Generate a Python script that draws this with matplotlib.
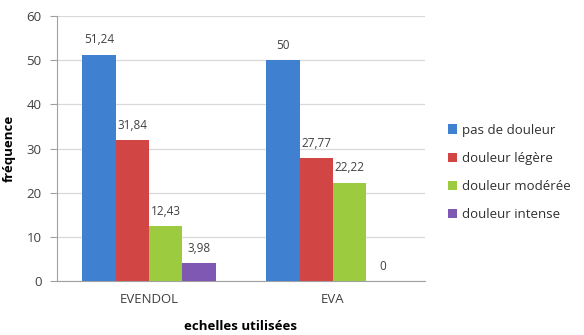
import matplotlib
matplotlib.use('Agg')

import matplotlib.pyplot as plt
import numpy as np

# Data: pain levels per scale
scales = ['EVENDOL', 'EVA']
series_names = ['pas de douleur', 'douleur légère', 'douleur modérée', 'douleur intense']
pas_de_douleur = [51.24, 50]
douleur_legere = [31.84, 27.77]
douleur_moderee = [12.43, 22.22]
douleur_intense = [3.98, 0]

colors = ['#4080D0', '#D24545', '#9CCB3F', '#7F58B3']
text_gray = '#404040'

plt.rcParams['font.family'] = ['Open Sans', 'DejaVu Sans']

fig = plt.figure(figsize=(5.84, 3.35), dpi=100)
ax = fig.add_axes([0.0976, 0.1612, 0.63, 0.791])

x = np.arange(len(scales))
width = 0.1815
all_series = [pas_de_douleur, douleur_legere, douleur_moderee, douleur_intense]

for i, (name, vals, col) in enumerate(zip(series_names, all_series, colors)):
    pos = x + (i - 1.5) * width
    bars = ax.bar(pos, vals, width, color=col, label=name, zorder=3)
    for b, v in zip(bars, vals):
        lbl = f'{v:g}'.replace('.', ',')
        ax.text(b.get_x() + b.get_width() / 2, v + 1.9, lbl,
                ha='center', va='bottom', fontsize=8.5, color=text_gray)

ax.set_xlim(-0.5, 1.5)
ax.set_ylim(0, 60)
ax.set_yticks(range(0, 61, 10))
ax.set_xticks(x)
ax.set_xticklabels(scales)
ax.tick_params(axis='x', length=0, pad=9, labelsize=9.5, labelcolor=text_gray)
ax.tick_params(axis='y', length=5, width=0.8, color='#A0A0A0', labelsize=9.5, labelcolor=text_gray, pad=6)

ax.grid(axis='y', color='#D9D9D9', linewidth=0.9, zorder=0)
for side in ['top', 'right']:
    ax.spines[side].set_visible(False)
ax.spines['left'].set_color('#A0A0A0')
ax.spines['bottom'].set_color('#A0A0A0')

ax.set_ylabel('fréquence', fontsize=9.5, fontweight='bold', labelpad=8)
ax.set_xlabel('echelles utilisées', fontsize=9.5, fontweight='bold', labelpad=10)

ax.legend(loc='center left', bbox_to_anchor=(1.03, 0.41), frameon=False,
          fontsize=9.5, handlelength=0.7, handleheight=0.7, handletextpad=0.4,
          labelspacing=1.15, labelcolor='#303030')

fig.savefig('out.png', dpi=100)
